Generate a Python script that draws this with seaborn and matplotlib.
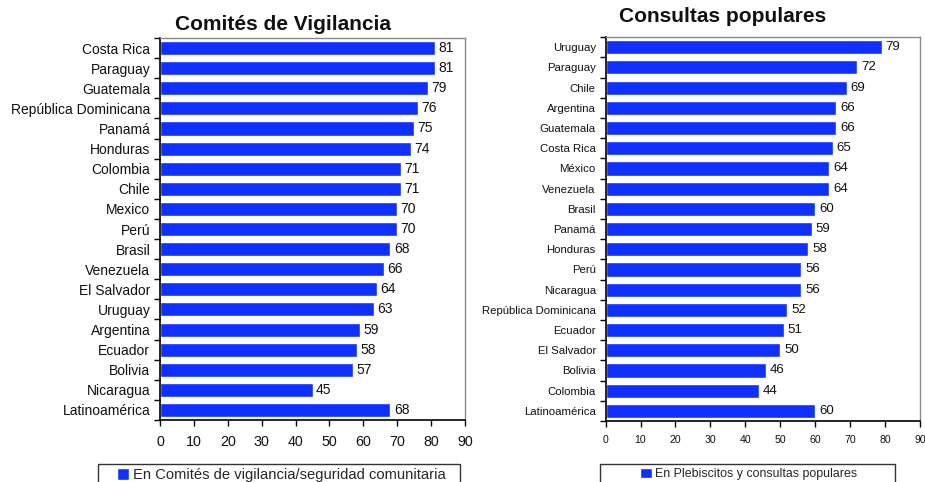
import numpy as np
import pandas as pd
import matplotlib
matplotlib.use("Agg")
import matplotlib.pyplot as plt
from matplotlib.patches import Rectangle
import seaborn as sns

# Comités de vigilancia / seguridad comunitaria
vig_paises = ["Costa Rica", "Paraguay", "Guatemala", "República Dominicana", "Panamá",
              "Honduras", "Colombia", "Chile", "Mexico", "Perú", "Brasil", "Venezuela",
              "El Salvador", "Uruguay", "Argentina", "Ecuador", "Bolivia", "Nicaragua",
              "Latinoamérica"]
vig_valores = [81, 81, 79, 76, 75, 74, 71, 71, 70, 70, 68, 66, 64, 63, 59, 58, 57, 45, 68]

# Plebiscitos y consultas populares
con_paises = ["Uruguay", "Paraguay", "Chile", "Argentina", "Guatemala", "Costa Rica",
              "México", "Venezuela", "Brasil", "Panamá", "Honduras", "Perú", "Nicaragua",
              "República Dominicana", "Ecuador", "El Salvador", "Bolivia", "Colombia",
              "Latinoamérica"]
con_valores = [79, 72, 69, 66, 66, 65, 64, 64, 60, 59, 58, 56, 56, 52, 51, 50, 46, 44, 60]

x_ticks = [0, 10, 20, 30, 40, 50, 60, 70, 80, 90]

sns.set_theme(style="white")
plt.rcParams["font.family"] = ["Liberation Sans", "DejaVu Sans"]

AZUL = "#0F30FF"
W, H = 925, 482

fig = plt.figure(figsize=(W / 100, H / 100), dpi=100)
ax1 = fig.add_axes([0.173, 0.1286, 0.3297, 0.7925])
ax2 = fig.add_axes([0.6546, 0.1266, 0.3405, 0.7964])


def panel(ax, paises, valores, titulo, leyenda, fs_y, fs_x, fs_val,
          title_xy, box, leg_xy, leg_fs, hl, xpad):
    df = pd.DataFrame({"pais": paises, "valor": valores})
    sns.barplot(data=df, x="valor", y="pais", orient="h", color=AZUL,
                saturation=1, width=0.7, ax=ax, label=leyenda)
    n = len(paises)
    ax.set_ylim(n - 0.5, -0.5)
    ax.set_xlim(0, 90)
    ax.set_xticks(x_ticks)
    ax.set_xlabel("")
    ax.set_ylabel("")
    ax.tick_params(axis="x", which="major", bottom=True, direction="out",
                   length=4, width=1, color="black", labelsize=fs_x, pad=xpad)
    ax.tick_params(axis="y", which="major", left=False, length=0,
                   labelsize=fs_y, pad=7)
    ax.set_yticks(np.arange(-0.5, n, 1.0), minor=True)
    ax.tick_params(axis="y", which="minor", left=True, direction="out",
                   length=4, width=1, color="black")
    for lab in ax.get_xticklabels() + ax.get_yticklabels():
        lab.set_color("#111111")
    for s in ["left", "bottom"]:
        ax.spines[s].set_color("black")
        ax.spines[s].set_linewidth(1.2)
    for s in ["top", "right"]:
        ax.spines[s].set_color("#8a8a8a")
        ax.spines[s].set_linewidth(1.0)
    for cont in ax.containers:
        ax.bar_label(cont, labels=[f"{v:d}" for v in valores], padding=2.5,
                     fontsize=fs_val, color="#111111")

    fig.text(title_xy[0] / W, 1 - title_xy[1] / H, titulo, fontsize=15,
             fontweight="bold", ha="center", va="center", color="#111111")

    handles, labels = ax.get_legend_handles_labels()
    if ax.get_legend() is not None:
        ax.get_legend().remove()
    x0, x1, y0 = box
    fig.patches.append(Rectangle((x0 / W, 1 - (H + 20) / H), (x1 - x0) / W,
                                 (H + 20 - y0) / H, transform=fig.transFigure,
                                 fill=False, edgecolor="#333333", linewidth=1.0))
    fig.legend(handles, labels, loc="center",
               bbox_to_anchor=(leg_xy[0] / W, 1 - leg_xy[1] / H),
               fontsize=leg_fs, frameon=False, handlelength=hl, handleheight=hl,
               handletextpad=0.25, borderpad=0, borderaxespad=0)


panel(ax1, vig_paises, vig_valores, "Comités de Vigilancia",
      "En Comités de vigilancia/seguridad comunitaria",
      fs_y=10, fs_x=10.3, fs_val=10, title_xy=(283, 24),
      box=(98, 460, 464), leg_xy=(281.5, 475), leg_fs=10.6, hl=0.82, xpad=7)
panel(ax2, con_paises, con_valores, "Consultas populares",
      "En Plebiscitos y consultas populares",
      fs_y=8.2, fs_x=7.6, fs_val=9.5, title_xy=(723, 16),
      box=(600, 895, 464), leg_xy=(748.5, 474), leg_fs=8.9, hl=0.97, xpad=6)

fig.savefig("out.png", dpi=100)
